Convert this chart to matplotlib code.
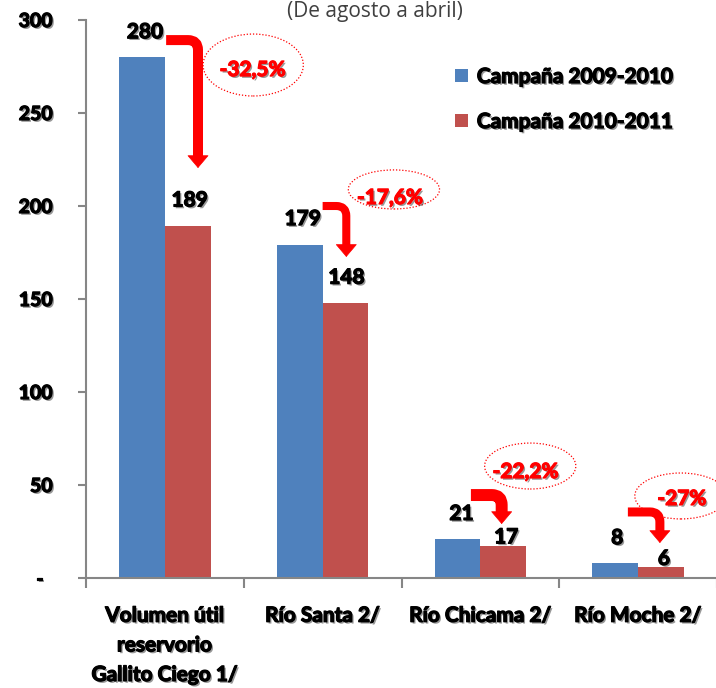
import numpy as np
import matplotlib
matplotlib.use("Agg")
import matplotlib.pyplot as plt
import matplotlib.patheffects as pe
from matplotlib.patches import Ellipse

plt.rcParams['font.family'] = ['Lato', 'DejaVu Sans']

# data
categories = ["Volumen útil\nreservorio\nGallito Ciego 1/", "Río Santa 2/",
              "Río Chicama 2/", "Río Moche 2/"]
campana_0910 = [280, 179, 21, 8]
campana_1011 = [189, 148, 17, 6]
variacion = ["-32,5%", "-17,6%", "-22,2%", "-27%"]
series_names = ["Campaña 2009-2010", "Campaña 2010-2011"]

blue = "#4F81BD"
red = "#C0504D"
grey = "#868686"


def heavy(color="black"):
    # thicker glyphs plus a soft drop shadow, like the original Excel text
    return [pe.withSimplePatchShadow(offset=(1.3, -1.3), shadow_rgbFace="#444444", alpha=0.55),
            pe.Stroke(linewidth=0.9, foreground=color), pe.Normal()]


fs = 15

fig = plt.figure(figsize=(7.16, 6.88), dpi=100)
ax = fig.add_axes([86/716, 1 - 578/688, 631/716, 558/688])

x = np.arange(len(categories))
bw = 0.29
b1 = ax.bar(x - bw/2, campana_0910, bw, color=blue, label=series_names[0])
b2 = ax.bar(x + bw/2, campana_1011, bw, color=red, label=series_names[1])

ax.set_xlim(-0.5, 3.5)
ax.set_ylim(0, 300)

# value labels (placed by hand in the original)
blue_off = [(3, 25), (3, 26), (4, 25), (2, 25)]
red_off = [(2, 26), (1, 25), (3, 9), (3, 8)]
for i in range(len(x)):
    ax.annotate(str(campana_0910[i]), (x[i] - bw/2, campana_0910[i]), xytext=blue_off[i],
                textcoords="offset pixels", ha="center", va="center",
                fontsize=fs, fontweight="bold", path_effects=heavy())
    ax.annotate(str(campana_1011[i]), (x[i] + bw/2, campana_1011[i]), xytext=red_off[i],
                textcoords="offset pixels", ha="center", va="center",
                fontsize=fs, fontweight="bold", path_effects=heavy())

# bent red arrows
start_dx = [0.008, 0.0, -0.06, -0.065]
start_dy = [9.2, 21, 23.6, 27.5]
vert_dx = [0.21, 0.15, 0.135, 0.138]
tip_dy = [31.4, 24.6, 12, 12.8]
arrow_lw = [7.2, 5.8, 8.6, 6.5]
head_len = 6.5
for i in range(len(x)):
    x0 = x[i] + start_dx[i]
    y0 = campana_0910[i] + start_dy[i]
    xv = x[i] + vert_dx[i]
    yt = campana_1011[i] + tip_dy[i]
    ax.annotate("", xy=(xv, yt + head_len - 0.5), xytext=(x0, y0),
                arrowprops=dict(arrowstyle="-", color="#FF0000", lw=arrow_lw[i],
                                shrinkA=0, shrinkB=0, capstyle="butt",
                                connectionstyle="angle,angleA=0,angleB=90,rad=10"))
    ax.annotate("", xy=(xv, yt), xytext=(xv, yt + head_len),
                arrowprops=dict(arrowstyle="-|>,head_length=0.85,head_width=0.72",
                                mutation_scale=10, color="#FF0000", lw=0.5,
                                shrinkA=0, shrinkB=0))

# dotted ellipses with percentage change
ell_dx = [0.56, 0.452, 0.316, 0.271]
ell_y = [275.8, 208.9, 60.2, 44.1]
ell_w = [0.635, 0.578, 0.578, 0.584]
ell_h = [33.3, 21, 24.7, 24.7]
txt_dx = [0.557, 0.428, 0.287, 0.278]
txt_y = [273.1, 204.3, 57, 42.5]
for i in range(len(x)):
    ax.add_patch(Ellipse((x[i] + ell_dx[i], ell_y[i]), ell_w[i], ell_h[i],
                         fill=False, edgecolor="#FF0000", lw=0.9, linestyle=(0, (1, 1.5)),
                         clip_on=False))
    ax.text(x[i] + txt_dx[i], txt_y[i], variacion[i], color="#FF0000", ha="center",
            va="center", fontsize=fs, fontweight="bold", path_effects=heavy("#FF0000"))

# axes styling
for s in ["top", "right"]:
    ax.spines[s].set_visible(False)
ax.spines["left"].set_color(grey)
ax.spines["bottom"].set_color(grey)
ax.spines["left"].set_linewidth(1.5)
ax.spines["bottom"].set_linewidth(1.5)

yt_vals = np.arange(0, 301, 50)
ax.set_yticks(yt_vals)
ax.set_yticklabels([str(v) if v > 0 else "-  " for v in yt_vals],
                   fontsize=14, fontweight="bold")
ax.tick_params(axis="y", length=6, width=1.5, color=grey, pad=18)

ax.set_xticks(x)
ax.set_xticklabels(categories, fontsize=fs, fontweight="bold", linespacing=1.6, va="top")
ax.set_xticks(np.arange(-0.5, 3.6, 1.0), minor=True)
ax.tick_params(axis="x", which="major", length=0, pad=20)
ax.tick_params(axis="x", which="minor", length=7, width=1.5, color=grey)
for lab in ax.get_xticklabels() + ax.get_yticklabels():
    lab.set_path_effects(heavy())

leg = ax.legend(loc="upper left", bbox_to_anchor=(455/716, 1 - 67/688),
                bbox_transform=fig.transFigure, frameon=False, fontsize=fs,
                handlelength=0.6, handleheight=0.6, handletextpad=0.45,
                labelspacing=1.2, borderpad=0, borderaxespad=0)
for t in leg.get_texts():
    t.set_fontweight("bold")
    t.set_path_effects(heavy())

fig.text(375/716, 1 - 1/688, "(De agosto a abril)", ha="center", va="top",
         fontsize=15, color="#404040", family=["Open Sans", "DejaVu Sans"])

fig.savefig("out.png", dpi=100)
